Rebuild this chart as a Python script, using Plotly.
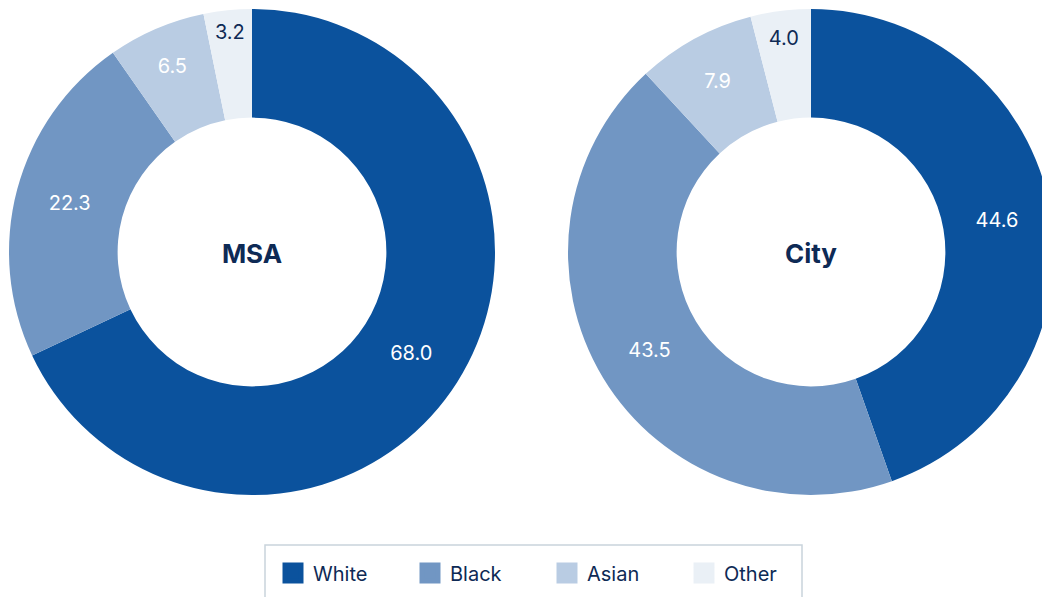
import plotly.graph_objects as go

categories = ["White", "Black", "Asian", "Other"]
msa_values = [68.0, 22.3, 6.5, 3.2]
city_values = [44.6, 43.5, 7.9, 4.0]
chart_titles = ["MSA", "City"]

colors = ["#0B529D", "#7196C3", "#B9CCE3", "#EAF0F6"]
text_colors = ["#FFFFFF", "#FFFFFF", "#FFFFFF", "#0E2A55"]
navy = "#0E2A55"
FONT = "Inter"

W, H = 1060, 597

def dom_x(c, r):
    return [(c - r) / W, (c + r) / W]

def dom_y(c, r):
    return [1 - (c + r) / H, 1 - (c - r) / H]

fig = go.Figure()
R = 243
for vals, title, cx in [(msa_values, chart_titles[0], 252), (city_values, chart_titles[1], 811)]:
    fig.add_trace(go.Pie(
        labels=categories, values=vals, sort=False, direction="clockwise", rotation=0,
        hole=0.553,
        marker=dict(colors=colors, line=dict(width=0)),
        texttemplate="%{value:.1f}", textposition="inside",
        insidetextorientation="horizontal",
        textfont=dict(family=FONT, size=20, color=text_colors),
        title=dict(text="<b>" + title + "</b>", position="middle center",
                   font=dict(family=FONT, size=26, color=navy)),
        domain=dict(x=dom_x(cx, R), y=dom_y(252, R)),
        showlegend=False, hoverinfo="label+value",
    ))

# legend entries
for name, col in zip(categories, colors):
    fig.add_trace(go.Scatter(
        x=[None], y=[None], mode="markers", name=name,
        marker=dict(symbol="square", size=16, color=col, line=dict(color=col, width=5)),
        showlegend=True,
    ))

fig.update_layout(
    width=W, height=H,
    margin=dict(l=0, r=0, t=0, b=0),
    paper_bgcolor="white", plot_bgcolor="white",
    xaxis=dict(visible=False), yaxis=dict(visible=False),
    legend=dict(
        orientation="h", x=273 / W, xanchor="left", y=1 - 573 / H, yanchor="middle",
        font=dict(family=FONT, size=20, color=navy),
        entrywidth=92, borderwidth=0, bgcolor="rgba(0,0,0,0)",
    ),
    shapes=[dict(type="rect", xref="paper", yref="paper",
                 x0=265 / W, x1=802 / W, y0=-0.1, y1=1 - 545 / H,
                 line=dict(color="#C9D4DC", width=1.5), fillcolor="rgba(0,0,0,0)", layer="below")],
)

fig.write_html("out.html", config={"displayModeBar": False},
               post_script="document.body.style.margin='0';document.body.style.overflow='hidden';")
